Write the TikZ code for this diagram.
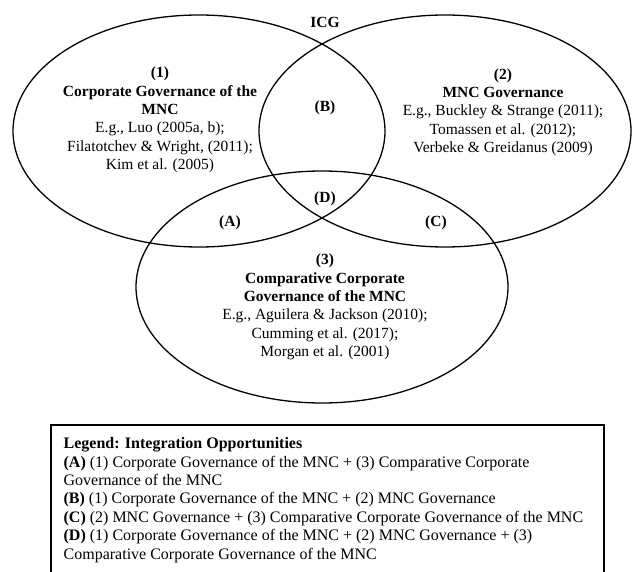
\documentclass[tikz,border=0pt]{standalone}
\usepackage{fontspec}
\setmainfont{Liberation Serif}
\usetikzlibrary{positioning, shapes.geometric}
\tikzset{
  every picture/.style={font=\fontsize{15.5}{18.3}\selectfont, line width=1.3pt},
  venn/.style={draw, ellipse, minimum width=372pt, minimum height=232pt, inner sep=0pt},
  region/.style={font=\fontsize{15.5}{18.3}\selectfont\bfseries, inner sep=1pt},
  txt/.style={align=center, inner sep=0pt},
  legendbox/.style={draw, line width=1.6pt},
  legend/.style={align=left, inner sep=0pt, anchor=north west, font=\fontsize{16}{18.4}\selectfont},
}

\begin{document}
\begin{tikzpicture}[x=1pt, y=1pt]
  \useasboundingbox (0,0) rectangle (634,571);
  % the three fields
  \node[venn] (cg) at (199,440) {};
  \node[venn] (mncg) at (445,440) {};
  \node[venn] (ccg) at (322,284) {};
  \node[region] (icg) at (325,549) {ICG};
  \node[txt] (cgtext) at (160,451) {\textbf{(1)}\\ \textbf{Corporate Governance of the}\\ \textbf{MNC}\\ E.g., Luo (2005a, b);\\ Filatotchev \& Wright, (2011);\\ Kim et al. (2005)};
  \node[txt] (mncgtext) at (503,459) {\textbf{(2)}\\ \textbf{MNC Governance}\\ E.g., Buckley \& Strange (2011);\\ Tomassen et al. (2012);\\ Verbeke \& Greidanus (2009)};
  \node[txt] (ccgtext) at (325,264) {\textbf{(3)}\\ \textbf{Comparative Corporate}\\ \textbf{Governance of the MNC}\\ E.g., Aguilera \& Jackson (2010);\\ Cumming et al. (2017);\\ Morgan et al. (2001)};
  % overlaps
  \node[region] (regB) at (325,463) {(B)};
  \node[region] (regD) at (325,372) {(D)};
  \node[region] (regA) at (230,348) {(A)};
  \node[region] (regC) at (436,348) {(C)};
  % legend
  \draw[legendbox] (51,-5) rectangle (604,146);
  \node[legend] (legtext) at (63,134) {\textbf{Legend: Integration Opportunities}\\
    \textbf{(A)} (1) Corporate Governance of the MNC + (3) Comparative Corporate\\
    Governance of the MNC\\
    \textbf{(B)} (1) Corporate Governance of the MNC + (2) MNC Governance\\
    \textbf{(C)} (2) MNC Governance + (3) Comparative Corporate Governance of the MNC\\
    \textbf{(D)} (1) Corporate Governance of the MNC + (2) MNC Governance + (3)\\
    Comparative Corporate Governance of the MNC};
\end{tikzpicture}
\end{document}
